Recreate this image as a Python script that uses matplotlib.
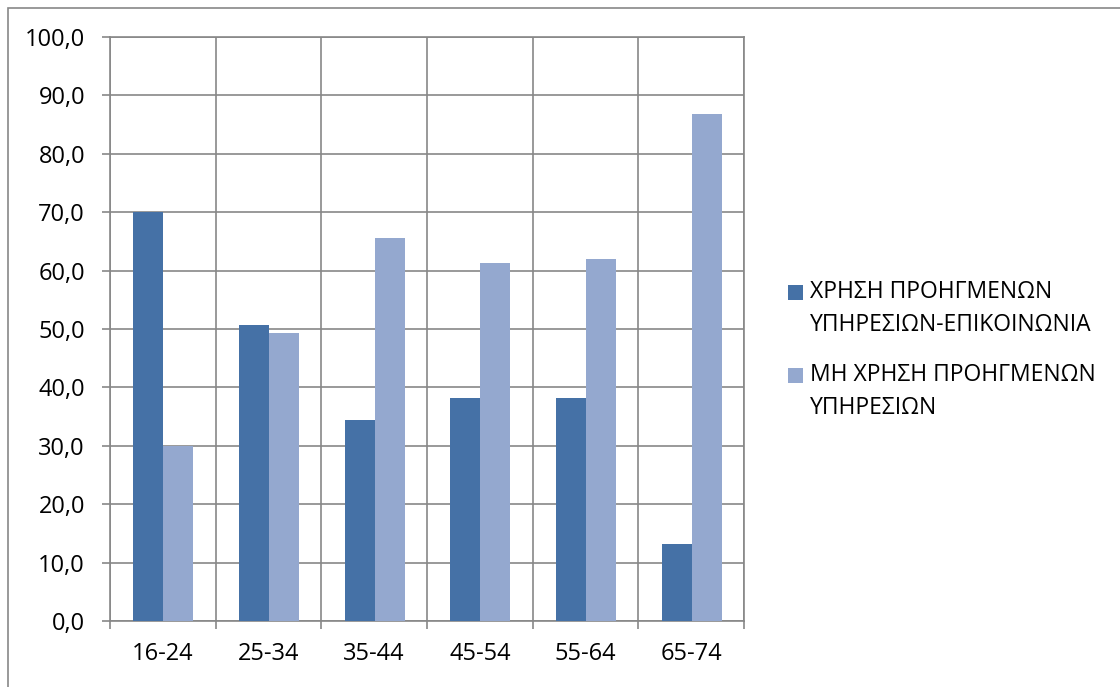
import matplotlib
matplotlib.use("Agg")
import matplotlib.pyplot as plt
import numpy as np
from matplotlib.patches import Rectangle, Patch
from matplotlib.legend_handler import HandlerPatch

categories = ["16-24", "25-34", "35-44", "45-54", "55-64", "65-74"]
use_adv = [70.0, 50.6, 34.4, 38.2, 38.1, 13.1]
no_use_adv = [30.0, 49.4, 65.6, 61.3, 62.0, 86.8]
series_names = ["ΧΡΗΣΗ ΠΡΟΗΓΜΕΝΩΝ\nΥΠΗΡΕΣΙΩΝ-ΕΠΙΚΟΙΝΩΝΙΑ",
                "ΜΗ ΧΡΗΣΗ ΠΡΟΗΓΜΕΝΩΝ\nΥΠΗΡΕΣΙΩΝ"]
yticks = [0, 10, 20, 30, 40, 50, 60, 70, 80, 90, 100]
ytick_labels = ["0,0", "10,0", "20,0", "30,0", "40,0", "50,0", "60,0",
                "70,0", "80,0", "90,0", "100,0"]

plt.rcParams['font.family'] = ['Open Sans', 'DejaVu Sans']

W, H = 1120, 687
fig = plt.figure(figsize=(W / 100, H / 100), dpi=100)
ax = fig.add_axes([110 / W, 1 - 621 / H, (744 - 110) / W, (621 - 37) / H])

dark = '#4571A6'
light = '#94A8CF'
grid = '#878787'

x = np.arange(len(categories))
bw = 0.285
ax.bar(x - bw / 2 + 0.005, use_adv, bw, color=dark, label=series_names[0], zorder=3)
ax.bar(x + bw / 2 + 0.005, no_use_adv, bw, color=light, label=series_names[1], zorder=3)

ax.set_xlim(-0.5, len(categories) - 0.5)
ax.set_ylim(0, 100)
ax.set_yticks(yticks)
ax.set_yticklabels(ytick_labels)
ax.set_xticks(np.arange(len(categories) + 1) - 0.5)
ax.set_xticklabels([])
ax.set_xticks(x, minor=True)
ax.set_xticklabels(categories, minor=True)

ax.grid(True, which='major', color=grid, linewidth=1.2, zorder=1)
ax.set_axisbelow(True)
for s in ax.spines.values():
    s.set_color(grid)
    s.set_linewidth(1.2)

ax.tick_params(axis='y', which='major', length=6, width=1.2, color=grid,
               labelsize=17, pad=12, labelcolor='black')
ax.tick_params(axis='x', which='major', length=6, width=1.2, color=grid)
ax.tick_params(axis='x', which='minor', length=0, labelsize=17, pad=15,
               labelcolor='black')

# outer chart border
fig.patches.append(Rectangle((7.5 / W, -0.1), 1.2, 1.1 - 7.5 / H,
                             transform=fig.transFigure, fill=False,
                             edgecolor=grid, linewidth=1.2))


class TopSquare(HandlerPatch):
    def __init__(self, shift):
        super().__init__()
        self.shift = shift

    def create_artists(self, legend, orig_handle, xdescent, ydescent,
                       width, height, fontsize, trans):
        p = Rectangle((-xdescent, -ydescent + self.shift * fontsize),
                      width, height, facecolor=orig_handle.get_facecolor(),
                      edgecolor='none', transform=trans)
        return [p]


handles = [Patch(facecolor=dark), Patch(facecolor=light)]
hm = {h: TopSquare(0.74) for h in handles}
leg = ax.legend(handles, series_names, loc='upper left', handler_map=hm,
                bbox_to_anchor=(788 / W, 1 - 280 / H), bbox_transform=fig.transFigure,
                frameon=False, fontsize=16.5, handlelength=0.65, handleheight=0.65,
                handletextpad=0.3, labelspacing=1.15, borderpad=0, borderaxespad=0)
for t in leg.get_texts():
    t.set_linespacing(1.5)

fig.savefig("out.png", dpi=100)
